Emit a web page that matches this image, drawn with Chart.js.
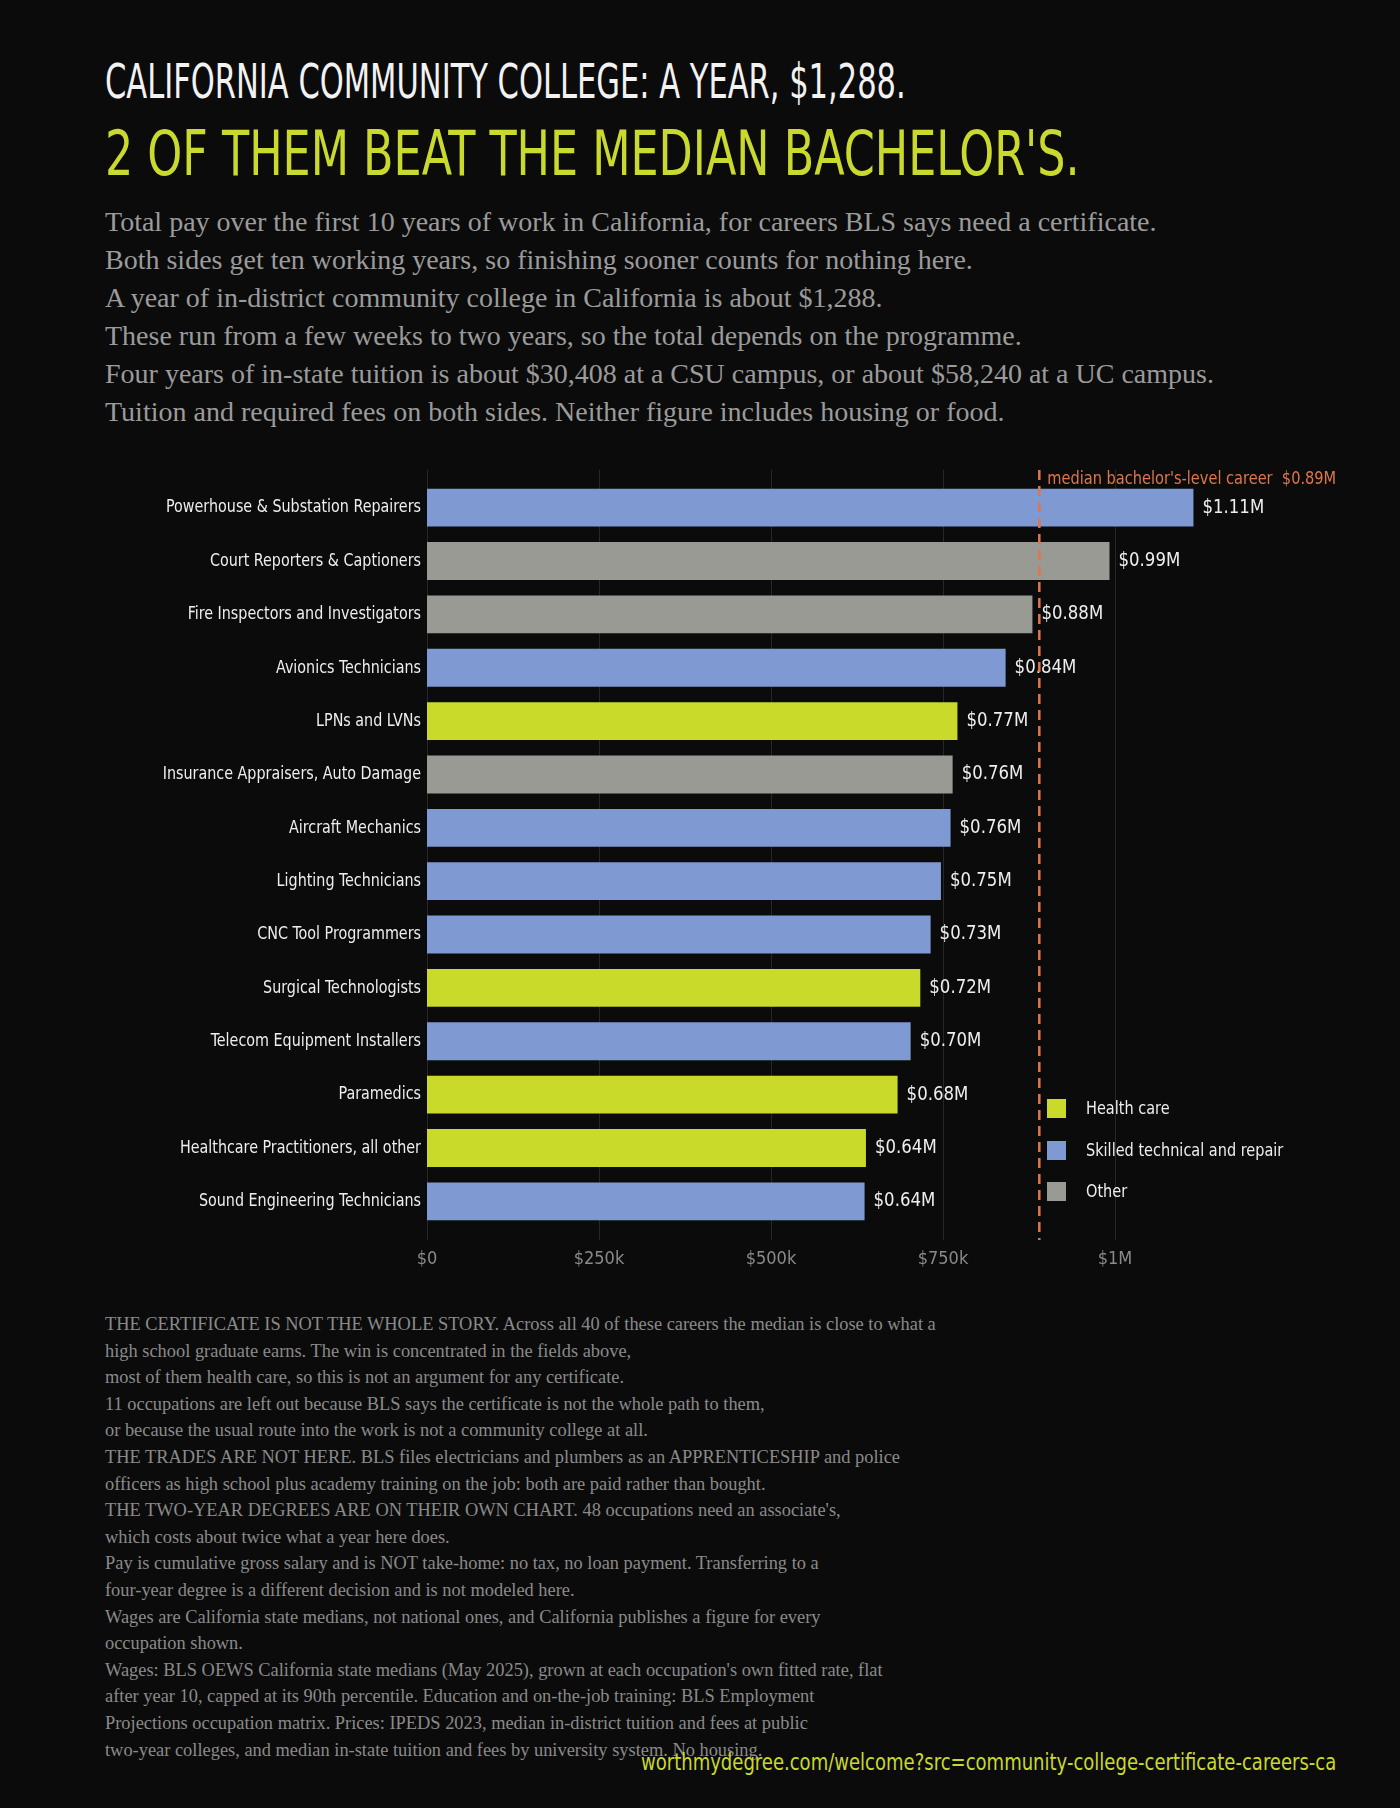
<!DOCTYPE html>
<html lang="en">
<head>
  <meta charset="UTF-8" />
  <title>California Community College Certificates</title>
  <script src="https://cdn.jsdelivr.net/npm/chart.js"></script>
  <style>
    body {
      margin: 0;
      background: #0b0b0b;
      width: 1400px;
      height: 1808px;
      position: relative;
      overflow: hidden;
    }
    .narrow { font-family: 'Liberation Sans Narrow', 'DejaVu Sans Condensed', 'Roboto', sans-serif; }
    .serif { font-family: 'Liberation Serif', 'DejaVu Serif', serif; }
    #title1 {
      position: absolute; left: 105px; top: 57px;
      font-size: 48px; line-height: 1; color: #f2f2f2; white-space: nowrap;
      transform: scaleX(0.707); transform-origin: left top;
    }
    #title2 {
      position: absolute; left: 105px; top: 122px;
      font-size: 63px; line-height: 1; color: #c9d92e; white-space: nowrap;
      transform: scaleX(0.784); transform-origin: left top;
    }
    #intro {
      position: absolute; left: 105px; top: 203px;
      font-size: 28px; line-height: 38px; color: #9b9b9b; white-space: nowrap;
    }
    #chartBox {
      position: absolute; left: 0; top: 440px; width: 1400px; height: 850px;
    }
    #legend {
      position: absolute; left: 1047px; top: 1097px;
      font-size: 18px; color: #eeeeee;
    }
    #legend div { height: 41.5px; display: flex; align-items: flex-start; }
    #legend span.sw { width: 19px; height: 19px; display: inline-block; margin-right: 20px; margin-top: 2px; }
    #legend span.tx { display: inline-block; transform: scaleX(0.895); transform-origin: left top; }
    #notes {
      position: absolute; left: 105px; top: 1311px;
      font-size: 18.4px; line-height: 26.6px; color: #8a8a8a; white-space: nowrap;
    }
    #url {
      position: absolute; right: 64px; top: 1751px;
      font-size: 23px; line-height: 1; color: #c9d92e; white-space: nowrap;
      transform: scaleX(0.871); transform-origin: right top;
    }
  </style>
</head>
<body>

<div id="title1" class="narrow">CALIFORNIA COMMUNITY COLLEGE: A YEAR, $1,288.</div>
<div id="title2" class="narrow">2 OF THEM BEAT THE MEDIAN BACHELOR'S.</div>

<div id="intro" class="serif">
  Total pay over the first 10 years of work in California, for careers BLS says need a certificate.<br>
  Both sides get ten working years, so finishing sooner counts for nothing here.<br>
  A year of in-district community college in California is about $1,288.<br>
  These run from a few weeks to two years, so the total depends on the programme.<br>
  Four years of in-state tuition is about $30,408 at a CSU campus, or about $58,240 at a UC campus.<br>
  Tuition and required fees on both sides. Neither figure includes housing or food.
</div>

<div id="chartBox"><canvas id="chart" width="1400" height="850"></canvas></div>

<div id="legend" class="narrow"></div>

<div id="notes" class="serif">
  THE CERTIFICATE IS NOT THE WHOLE STORY. Across all 40 of these careers the median is close to what a<br>
  high school graduate earns. The win is concentrated in the fields above,<br>
  most of them health care, so this is not an argument for any certificate.<br>
  11 occupations are left out because BLS says the certificate is not the whole path to them,<br>
  or because the usual route into the work is not a community college at all.<br>
  THE TRADES ARE NOT HERE. BLS files electricians and plumbers as an APPRENTICESHIP and police<br>
  officers as high school plus academy training on the job: both are paid rather than bought.<br>
  THE TWO-YEAR DEGREES ARE ON THEIR OWN CHART. 48 occupations need an associate's,<br>
  which costs about twice what a year here does.<br>
  Pay is cumulative gross salary and is NOT take-home: no tax, no loan payment. Transferring to a<br>
  four-year degree is a different decision and is not modeled here.<br>
  Wages are California state medians, not national ones, and California publishes a figure for every<br>
  occupation shown.<br>
  Wages: BLS OEWS California state medians (May 2025), grown at each occupation's own fitted rate, flat<br>
  after year 10, capped at its 90th percentile. Education and on-the-job training: BLS Employment<br>
  Projections occupation matrix. Prices: IPEDS 2023, median in-district tuition and fees at public<br>
  two-year colleges, and median in-state tuition and fees by university system. No housing.
</div>

<div id="url" class="narrow">worthmydegree.com/welcome?src=community-college-certificate-careers-ca</div>

<script>
  // Occupations, top to bottom
  const occupations = [
    'Powerhouse & Substation Repairers',
    'Court Reporters & Captioners',
    'Fire Inspectors and Investigators',
    'Avionics Technicians',
    'LPNs and LVNs',
    'Insurance Appraisers, Auto Damage',
    'Aircraft Mechanics',
    'Lighting Technicians',
    'CNC Tool Programmers',
    'Surgical Technologists',
    'Telecom Equipment Installers',
    'Paramedics',
    'Healthcare Practitioners, all other',
    'Sound Engineering Technicians'
  ];
  // 10-year total pay, dollars
  const tenYearPay = [1114000, 992000, 880000, 841000, 771000, 764000, 761000,
                      747000, 732000, 717000, 703000, 684000, 638000, 636000];
  const groups = ['skilled', 'other', 'other', 'skilled', 'health', 'other', 'skilled',
                  'skilled', 'skilled', 'health', 'skilled', 'health', 'health', 'skilled'];
  const groupNames = { health: 'Health care', skilled: 'Skilled technical and repair', other: 'Other' };
  const groupColors = { health: '#c9da2b', skilled: '#7f9ad3', other: '#9a9a94' };
  const medianBachelor = 890000;
  const xTicks = [0, 250000, 500000, 750000, 1000000];
  const xTickLabels = ['$0', '$250k', '$500k', '$750k', '$1M'];

  const NARROW = "'Liberation Sans Narrow', 'DejaVu Sans Condensed', Roboto, sans-serif";

  // legend
  const legendEl = document.getElementById('legend');
  ['health', 'skilled', 'other'].forEach(g => {
    const row = document.createElement('div');
    row.innerHTML = `<span class="sw" style="background:${groupColors[g]}"></span><span class="tx">${groupNames[g]}</span>`;
    legendEl.appendChild(row);
  });

  // text squeezed sideways, the installed fonts run wider than the original
  function narrowText(ctx, text, x, y, squeeze) {
    ctx.save();
    ctx.translate(x, y);
    ctx.scale(squeeze, 1);
    ctx.fillText(text, 0, 0);
    ctx.restore();
  }

  // squeeze the y axis labels around their right edge
  const squeezeYLabels = {
    id: 'squeezeYLabels',
    beforeDraw(chart) {
      const yScale = chart.scales.y;
      if (!yScale || yScale._squeezed) return;
      yScale._squeezed = true;
      const orig = yScale.drawLabels;
      yScale.drawLabels = function (area) {
        const ctx = this.ctx;
        const xr = this.right - this.options.ticks.padding;
        ctx.save();
        ctx.translate(xr, 0);
        ctx.scale(0.86, 1);
        ctx.translate(-xr, 0);
        orig.call(this, area);
        ctx.restore();
      };
    }
  };

  // gridlines that run a little past the bars, plus median line and value labels
  const overlay = {
    id: 'overlay',
    beforeDatasetsDraw(chart) {
      const { ctx, chartArea, scales } = chart;
      ctx.save();
      ctx.strokeStyle = '#272727';
      ctx.lineWidth = 1;
      xTicks.forEach(v => {
        const x = Math.round(scales.x.getPixelForValue(v)) + 0.5;
        ctx.beginPath();
        ctx.moveTo(x, chartArea.top - 11);
        ctx.lineTo(x, chartArea.bottom + 12);
        ctx.stroke();
      });
      ctx.restore();
    },
    afterDatasetsDraw(chart) {
      const { ctx, chartArea, scales } = chart;
      ctx.save();
      // value labels
      ctx.font = `19px ${NARROW}`;
      ctx.fillStyle = '#eeeeee';
      ctx.textBaseline = 'middle';
      ctx.textAlign = 'left';
      chart.getDatasetMeta(0).data.forEach((bar, i) => {
        narrowText(ctx, '$' + (tenYearPay[i] / 1e6).toFixed(2) + 'M', bar.x + 9, bar.y, 0.97);
      });
      // median line
      const mx = scales.x.getPixelForValue(medianBachelor);
      ctx.strokeStyle = '#de774b';
      ctx.lineWidth = 2.5;
      ctx.setLineDash([10, 6]);
      ctx.beginPath();
      ctx.moveTo(mx, chartArea.top - 11);
      ctx.lineTo(mx, chartArea.bottom + 12);
      ctx.stroke();
      ctx.setLineDash([]);
      ctx.fillStyle = '#de774b';
      ctx.font = `18px ${NARROW}`;
      ctx.textBaseline = 'alphabetic';
      narrowText(ctx, "median bachelor's-level career  $" + (medianBachelor / 1e6).toFixed(2) + 'M',
                 mx + 8, chartArea.top + 3, 0.9);
      ctx.restore();
    }
  };

  new Chart(document.getElementById('chart'), {
    type: 'bar',
    data: {
      labels: occupations,
      datasets: [{
        data: tenYearPay,
        backgroundColor: groups.map(g => groupColors[g]),
        barPercentage: 0.71,
        categoryPercentage: 1
      }]
    },
    options: {
      indexAxis: 'y',
      responsive: false,
      animation: false,
      devicePixelRatio: 1,
      layout: { padding: { top: 41, right: 113, left: 0, bottom: 0 } },
      plugins: { legend: { display: false }, tooltip: { enabled: false } },
      scales: {
        x: {
          type: 'linear',
          min: 0,
          max: 1250000,
          afterFit: s => { s.height = 62; },
          afterBuildTicks: s => { s.ticks = xTicks.map(v => ({ value: v })); },
          grid: { display: false, drawTicks: false },
          border: { display: false },
          ticks: {
            padding: 21,
            color: '#8a8a8a',
            font: { family: NARROW, size: 18 },
            callback: v => xTickLabels[xTicks.indexOf(v)]
          }
        },
        y: {
          afterFit: s => { s.width = 427; },
          grid: { display: false, drawTicks: false },
          border: { display: false },
          ticks: {
            padding: 6,
            color: '#eeeeee',
            font: { family: NARROW, size: 18.5 }
          }
        }
      }
    },
    plugins: [squeezeYLabels, overlay]
  });
</script>
</body>
</html>
